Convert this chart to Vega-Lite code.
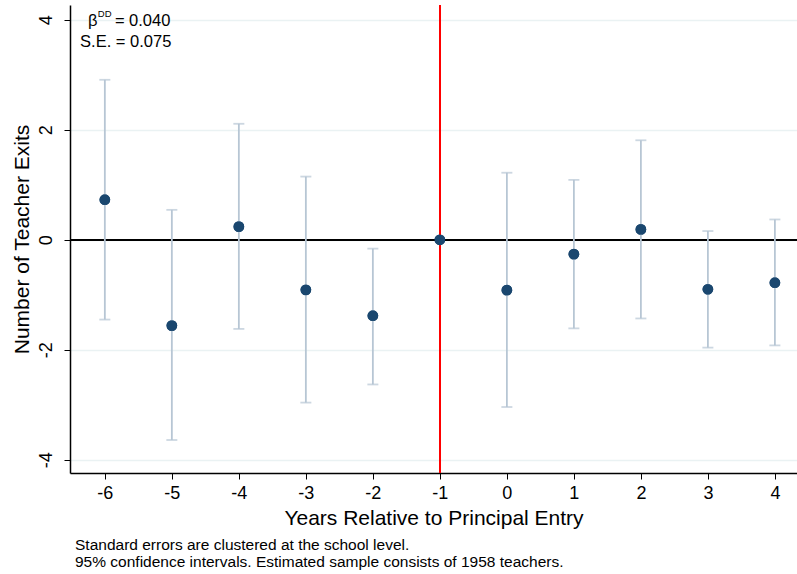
{
  "$schema": "https://vega.github.io/schema/vega-lite/v6.json",
  "width": 727,
  "height": 468,
  "autosize": {"type": "none"},
  "padding": {"left": 70, "top": 5, "right": 0, "bottom": 101},
  "background": "white",
  "config": {"view": {"stroke": null}},
  "title": {
    "text": ["Standard errors are clustered at the school level.", "95% confidence intervals. Estimated sample consists of 1958 teachers."],
    "orient": "bottom",
    "anchor": "start",
    "frame": "group",
    "font": "Liberation Sans",
    "fontSize": 15.5,
    "fontWeight": "normal",
    "lineHeight": 17,
    "color": "black",
    "dx": 5,
    "offset": 10
  },
  "data": {"values": [
    {"t": -6, "b": 0.73, "lo": -1.45, "hi": 2.91},
    {"t": -5, "b": -1.56, "lo": -3.64, "hi": 0.545},
    {"t": -4, "b": 0.24, "lo": -1.62, "hi": 2.11},
    {"t": -3, "b": -0.91, "lo": -2.96, "hi": 1.15},
    {"t": -2, "b": -1.38, "lo": -2.63, "hi": -0.16},
    {"t": -1, "b": 0, "lo": null, "hi": null},
    {"t": 0, "b": -0.915, "lo": -3.04, "hi": 1.22},
    {"t": 1, "b": -0.26, "lo": -1.61, "hi": 1.09},
    {"t": 2, "b": 0.19, "lo": -1.43, "hi": 1.81},
    {"t": 3, "b": -0.90, "lo": -1.96, "hi": 0.16},
    {"t": 4, "b": -0.78, "lo": -1.92, "hi": 0.37}
  ]},
  "layer": [
    {
      "mark": {"type": "point", "filled": true, "opacity": 1, "color": "#1a476f", "size": 115},
      "encoding": {
        "x": {
          "field": "t", "type": "quantitative",
          "scale": {"domain": [-6.52, 4.33], "nice": false, "zero": false},
          "axis": {
            "values": [-6, -5, -4, -3, -2, -1, 0, 1, 2, 3, 4],
            "labelExpr": "'' + datum.value",
            "title": "Years Relative to Principal Entry",
            "grid": false,
            "domainColor": "black", "domainWidth": 1.5,
            "tickColor": "black", "tickSize": 6, "tickWidth": 1,
            "labelFont": "Liberation Sans", "labelFontSize": 18, "labelColor": "black", "labelPadding": 5,
            "titleFont": "Liberation Sans", "titleFontSize": 21, "titleFontWeight": "normal", "titleColor": "black", "titlePadding": 5
          }
        },
        "y": {
          "field": "b", "type": "quantitative",
          "scale": {"domain": [-4.24, 4.27], "nice": false, "zero": false},
          "axis": {
            "values": [-4, -2, 0, 2, 4],
            "labelExpr": "'' + datum.value",
            "title": "Number of Teacher Exits",
            "grid": true, "gridColor": "#eaf2f3", "gridWidth": 1.5,
            "domainColor": "black", "domainWidth": 1.5,
            "tickColor": "black", "tickSize": 6, "tickWidth": 1,
            "labelAngle": -90, "labelAlign": "center", "labelBaseline": "bottom",
            "labelFont": "Liberation Sans", "labelFontSize": 18, "labelColor": "black", "labelPadding": 9,
            "titleFont": "Liberation Sans", "titleFontSize": 21, "titleFontWeight": "normal", "titleColor": "black", "titlePadding": 5
          }
        }
      }
    },
    {
      "mark": {"type": "rule", "color": "black", "strokeWidth": 1.5},
      "encoding": {"y": {"datum": 0, "type": "quantitative"}}
    },
    {
      "mark": {"type": "rule", "color": "#ff0000", "strokeWidth": 1.5},
      "encoding": {"x": {"datum": -1, "type": "quantitative"}}
    },
    {
      "transform": [{"filter": "datum.lo != null"}],
      "mark": {"type": "rule", "color": "#b7c6d4", "strokeWidth": 1.8},
      "encoding": {
        "x": {"field": "t", "type": "quantitative"},
        "y": {"field": "lo", "type": "quantitative"},
        "y2": {"field": "hi"}
      }
    },
    {
      "transform": [{"filter": "datum.lo != null"}],
      "mark": {"type": "tick", "color": "#b7c6d4", "size": 11, "thickness": 1.8, "orient": "horizontal"},
      "encoding": {"x": {"field": "t", "type": "quantitative"}, "y": {"field": "lo", "type": "quantitative"}}
    },
    {
      "transform": [{"filter": "datum.lo != null"}],
      "mark": {"type": "tick", "color": "#b7c6d4", "size": 11, "thickness": 1.8, "orient": "horizontal"},
      "encoding": {"x": {"field": "t", "type": "quantitative"}, "y": {"field": "hi", "type": "quantitative"}}
    },
    {
      "mark": {"type": "point", "filled": true, "opacity": 1, "color": "#1a476f", "size": 115},
      "encoding": {
        "x": {"field": "t", "type": "quantitative"},
        "y": {"field": "b", "type": "quantitative"}
      }
    },
    {
      "data": {"values": [{"label": "β"}]},
      "mark": {"type": "text", "font": "Liberation Sans", "fontSize": 16.5, "align": "left", "baseline": "alphabetic", "color": "black"},
      "encoding": {"text": {"field": "label"}, "x": {"datum": -6.25, "type": "quantitative"}, "y": {"datum": 3.88, "type": "quantitative"}}
    },
    {
      "data": {"values": [{"label": "DD"}]},
      "mark": {"type": "text", "font": "Liberation Sans", "fontSize": 9.5, "align": "left", "baseline": "alphabetic", "color": "black"},
      "encoding": {"text": {"field": "label"}, "x": {"datum": -6.105, "type": "quantitative"}, "y": {"datum": 4.05, "type": "quantitative"}}
    },
    {
      "data": {"values": [{"label": "= 0.040"}]},
      "mark": {"type": "text", "font": "Liberation Sans", "fontSize": 16.5, "align": "left", "baseline": "alphabetic", "color": "black"},
      "encoding": {"text": {"field": "label"}, "x": {"datum": -5.85, "type": "quantitative"}, "y": {"datum": 3.88, "type": "quantitative"}}
    },
    {
      "data": {"values": [{"label": "S.E. = 0.075"}]},
      "mark": {"type": "text", "font": "Liberation Sans", "fontSize": 16.5, "align": "left", "baseline": "alphabetic", "color": "black"},
      "encoding": {"text": {"field": "label"}, "x": {"datum": -6.37, "type": "quantitative"}, "y": {"datum": 3.515, "type": "quantitative"}}
    }
  ]
}
